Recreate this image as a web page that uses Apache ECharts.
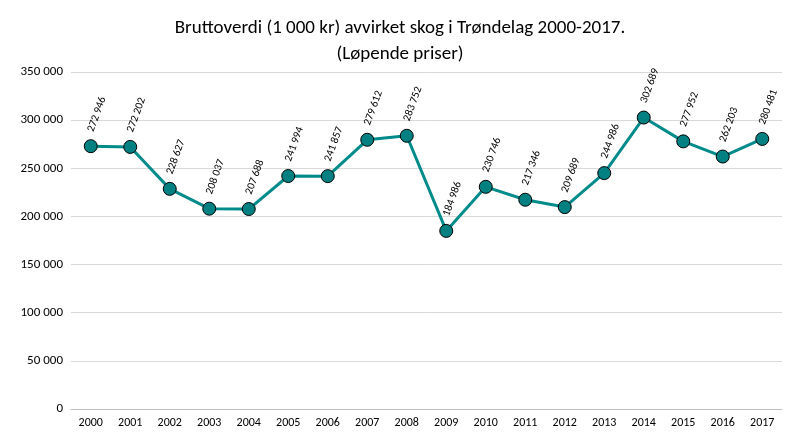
<!DOCTYPE html>
<html><head><meta charset="utf-8">
<script src="https://cdn.jsdelivr.net/npm/echarts@6/dist/echarts.min.js"></script>
<style>html,body{margin:0;padding:0;background:#fff}#main{width:800px;height:445px}</style>
</head><body><div id="main"></div>
<script>
var years = ['2000','2001','2002','2003','2004','2005','2006','2007','2008','2009','2010','2011','2012','2013','2014','2015','2016','2017'];
var values = [272946, 272202, 228627, 208037, 207688, 241994, 241857, 279612, 283752, 184986, 230746, 217346, 209689, 244986, 302689, 277952, 262203, 280481];

function fmt(v) {
    return String(v).replace(/\B(?=(\d{3})+(?!\d))/g, ' ');
}

var myChart = echarts.init(document.getElementById('main'));
var option = {
    animation: false,
    title: {
        text: 'Bruttoverdi (1 000 kr) avvirket skog i Trøndelag 2000-2017.\n(Løpende priser)',
        left: 'center',
        top: 10,
        textStyle: {fontFamily: 'Carlito, Calibri, "Liberation Sans", sans-serif', fontSize: 19, fontWeight: 'normal', color: '#000', lineHeight: 26}
    },
    grid: {left: 71, right: 18, top: 72, bottom: 36},
    xAxis: {
        type: 'category',
        data: years,
        axisLine: {lineStyle: {color: '#bfbfbf'}},
        axisTick: {show: false},
        axisLabel: {color: '#000', fontSize: 12, fontFamily: 'Carlito, "Liberation Sans", sans-serif'}
    },
    yAxis: {
        type: 'value',
        min: 0, max: 350000, interval: 50000,
        axisLabel: {color: '#000', fontSize: 13, formatter: fmt, fontFamily: 'Carlito, "Liberation Sans", sans-serif'},
        splitLine: {lineStyle: {color: '#d9d9d9'}},
        axisLine: {show: false}
    },
    series: [{
        type: 'line',
        data: values,
        symbol: 'circle',
        symbolSize: 13,
        lineStyle: {color: '#008b8b', width: 3},
        itemStyle: {color: '#008080', borderColor: '#000', borderWidth: 1},
        label: {
            show: true,
            position: 'top',
            rotate: 70,
            align: 'left',
            verticalAlign: 'middle',
            distance: 8,
            formatter: function (p) { return fmt(p.value); },
            color: '#000',
            fontSize: 11,
            fontFamily: 'Carlito, "Liberation Sans", sans-serif'
        }
    }]
};
myChart.setOption(option);
</script>
</body></html>
